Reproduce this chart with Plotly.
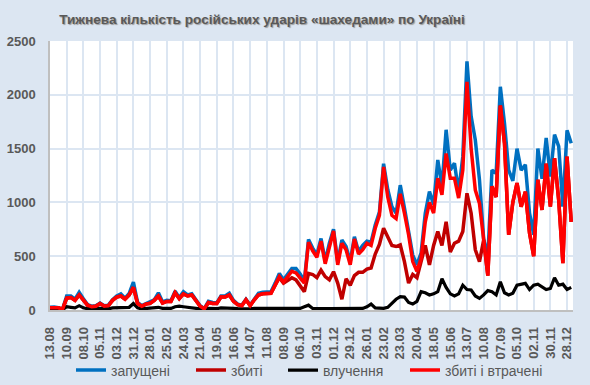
import pandas as pd
import plotly.graph_objects as go

# weekly samples starting 13.08.2023
start_date = "2023-08-13"

launched = [25, 28, 22, 6, 130, 130, 100, 165, 105, 50,
            35, 40, 65, 40, 45, 95, 130, 150, 110, 155,
            260, 70, 40, 60, 75, 95, 160, 75, 90, 85,
            175, 115, 170, 140, 150, 90, 40, 12, 80, 70,
            65, 130, 130, 155, 90, 55, 45, 100, 45, 100,
            155, 165, 165, 170, 250, 340, 280, 330, 385, 385,
            335, 270, 655, 575, 515, 665, 455, 620, 750, 445,
            650, 590, 450, 680, 545, 600, 640, 630, 790, 910,
            1360, 1120, 960, 900, 1160, 950, 740, 510, 420, 530,
            900, 1100, 980, 1395, 1150, 1675, 1300, 1365, 1100, 1425,
            2310, 1800, 1580, 1210, 660, 495, 1300, 1270, 2075, 1735,
            1300, 1200, 1500, 1300, 1350, 900, 700, 1500, 1220, 1600,
            1240, 1630, 1520, 960, 1670, 1550]

shot_lost = [22, 25, 20, 5, 110, 115, 90, 140, 90, 45,
             30, 35, 60, 35, 40, 90, 120, 130, 100, 140,
             210, 60, 35, 55, 62, 90, 130, 65, 80, 80,
             160, 105, 150, 130, 140, 80, 35, 10, 70, 60,
             60, 120, 120, 140, 80, 50, 40, 95, 40, 95,
             140, 150, 150, 155, 230, 310, 260, 310, 360, 345,
             300, 250, 630, 550, 490, 640, 430, 600, 735, 420,
             620, 560, 420, 660, 520, 560, 620, 600, 760, 880,
             1330, 1050, 880, 850, 1080, 900, 700, 450, 360, 480,
             820, 1000, 900, 1225, 1070, 1455, 1225, 1225, 1040, 1300,
             2120, 1500, 1115, 990, 650, 320, 1150, 1050, 1900, 1550,
             700, 1000, 1180, 960, 1100, 715, 500, 1210, 930, 1360,
             960, 1410, 1020, 435, 1425, 820]

shot = [22, 25, 20, 5, 110, 115, 90, 140, 90, 45,
        30, 35, 60, 35, 40, 90, 120, 130, 100, 140,
        210, 60, 35, 55, 62, 90, 130, 65, 80, 80,
        160, 105, 150, 130, 140, 80, 35, 10, 70, 60,
        60, 120, 120, 140, 80, 50, 40, 95, 40, 95,
        140, 150, 150, 155, 230, 300, 250, 280, 300, 280,
        230, 170, 340, 330, 300, 370, 310, 280, 356, 250,
        100, 290, 230, 320, 350, 350, 380, 390, 520, 610,
        760, 680, 600, 590, 605, 450, 250, 330, 300, 450,
        600, 420, 600, 730, 600, 820, 540, 620, 640, 730,
        1085, 900, 560, 450, 650, 320, 1150, 1050, 1900, 1550,
        700, 1000, 1180, 960, 1100, 715, 500, 1210, 930, 1360,
        960, 1410, 1020, 435, 1425, 820]

hits = [5, 8, 8, 3, 30, 25, 20, 40, 20, 12,
        10, 10, 15, 10, 10, 20, 20, 25, 20, 25,
        60, 20, 10, 15, 15, 20, 25, 15, 15, 15,
        30, 35, 30, 25, 25, 15, 10, 5, 15, 12,
        12, 20, 20, 20, 15, 12, 10, 15, 10, 15,
        15, 15, 15, 15, 15, 20, 15, 15, 15, 15,
        15, 30, 45, 15, 12, 12, 12, 12, 12, 12,
        12, 12, 12, 12, 12, 15, 30, 55, 20, 15,
        15, 25, 60, 100, 125, 120, 70, 55, 80, 170,
        160, 140, 150, 170, 290, 210, 150, 130, 150, 230,
        190, 186, 130, 108, 140, 180, 170, 140, 263, 160,
        140, 155, 230, 240, 248, 190, 230, 240, 217, 190,
        200, 300, 230, 240, 190, 210]

tick_labels = ["13.08", "10.09", "08.10", "05.11", "03.12", "31.12", "28.01", "25.02",
               "24.03", "21.04", "19.05", "16.06", "14.07", "11.08", "08.09", "06.10",
               "03.11", "01.12", "29.12", "26.01", "23.02", "23.03", "20.04", "18.05",
               "15.06", "13.07", "10.08", "07.09", "05.10", "02.11", "30.11", "28.12"]

dates = pd.date_range(start_date, periods=len(launched), freq="7D")
tick_vals = pd.date_range(start_date, periods=len(tick_labels), freq="28D")

grey = "#595959"
series = [
    ("запущені", launched, "#0070C0", 3.5, "legend"),
    ("збиті", shot, "#C00000", 3.5, "legend2"),
    ("влучення", hits, "#000000", 3.2, "legend3"),
    ("збиті і втрачені", shot_lost, "#FF0000", 3.5, "legend4"),
]

fig = go.Figure()
for name, vals, color, w, lg in series:
    fig.add_trace(go.Scatter(x=dates, y=vals, name=name, mode="lines", showlegend=True,
                             line=dict(color=color, width=w), legend=lg))

plot_left, plot_w = 50, 523
legend_font = dict(family="Liberation Sans, Arial, sans-serif", size=14, color=grey)


def legend_at(px):
    return dict(orientation="h", x=(px - plot_left) / plot_w, xanchor="left",
                y=-0.225, yanchor="middle", font=legend_font,
                bgcolor="rgba(0,0,0,0)", borderwidth=0)


fig.update_layout(
    width=590, height=385,
    showlegend=True,
    margin=dict(l=50, r=17, t=41, b=75, autoexpand=False),
    paper_bgcolor="#DCE6F2",
    plot_bgcolor="#FFFFFF",
    title=dict(text="Тижнева кількість російських ударів «шахедами» по Україні",
               x=262 / 590, xanchor="center", y=1 - 19 / 385, yanchor="middle",
               font=dict(family="Liberation Sans, Arial, sans-serif",
                         size=13.6, color=grey, weight="bold",
                         shadow="1px 1px 1px #9a9a9a")),
    legend=legend_at(71),
    legend2=legend_at(191),
    legend3=legend_at(283),
    legend4=legend_at(405),
    xaxis=dict(range=[pd.Timestamp(start_date), pd.Timestamp("2026-01-07")],
               tickmode="array", tickvals=tick_vals, ticktext=tick_labels,
               tickangle=-90, showgrid=True, gridcolor="#DCE6F2", gridwidth=1.5,
               showline=True, linecolor="#BFBFBF", linewidth=1.5,
               ticks="", ticklabelstandoff=10, automargin=False,
               tickfont=dict(family="Liberation Sans, Arial, sans-serif", size=13,
                             color=grey, weight="bold")),
    yaxis=dict(range=[0, 2500], dtick=500, showgrid=True, gridcolor="#DCE6F2", gridwidth=1.5,
               showline=True, linecolor="#BFBFBF", linewidth=1.5, zeroline=False,
               ticks="", ticklabelstandoff=10, automargin=False,
               tickfont=dict(family="Liberation Sans, Arial, sans-serif", size=13,
                             color=grey, weight="bold")),
)

fig.write_html("out.html", config={"displayModeBar": False},
               post_script="document.body.style.margin='0';document.body.style.background='#DCE6F2';")
